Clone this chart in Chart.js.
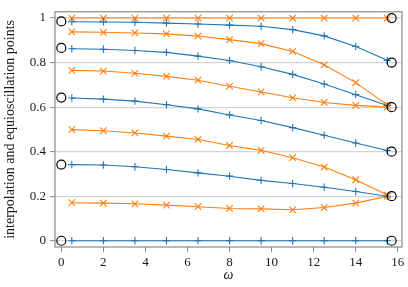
<!DOCTYPE html>
<html>
<head>
<meta charset="utf-8">
<script src="https://cdn.jsdelivr.net/npm/chart.js@4/dist/chart.umd.min.js"></script>
<style>
  html, body { margin: 0; padding: 0; background: #fff; }
  #c { display: block; }
</style>
</head>
<body>
<canvas id="c" width="408" height="287"></canvas>
<script>
// omega sample positions for the interior series
const omegas = [0.5, 2, 3.5, 5, 6.5, 8, 9.5, 11, 12.5, 14, 15.5];

// interpolation points (blue, "+")
const interp0 = [0, 0, 0, 0, 0, 0, 0, 0, 0, 0, 0];
const interp1 = [0.342, 0.340, 0.332, 0.320, 0.305, 0.290, 0.271, 0.257, 0.240, 0.221, 0.200];
const interp2 = [0.641, 0.636, 0.627, 0.611, 0.592, 0.565, 0.540, 0.508, 0.474, 0.439, 0.405];
const interp3 = [0.862, 0.860, 0.854, 0.846, 0.829, 0.809, 0.781, 0.747, 0.704, 0.656, 0.607];
const interp4 = [0.983, 0.982, 0.981, 0.977, 0.973, 0.968, 0.963, 0.948, 0.920, 0.872, 0.810];

// equioscillation points (orange, "x")
const equi1 = [0.171, 0.169, 0.166, 0.160, 0.153, 0.145, 0.143, 0.139, 0.149, 0.169, 0.200];
const equi2 = [0.499, 0.494, 0.484, 0.470, 0.455, 0.428, 0.406, 0.373, 0.331, 0.274, 0.205];
const equi3 = [0.765, 0.762, 0.752, 0.738, 0.721, 0.694, 0.668, 0.642, 0.621, 0.608, 0.600];
const equi4 = [0.938, 0.936, 0.933, 0.929, 0.919, 0.903, 0.885, 0.850, 0.790, 0.710, 0.610];
const equi5 = [1, 1, 1, 1, 1, 1, 1, 1, 1, 1, 1];

// reference nodes (open circles)
const startOmega = 0;
const startNodes = [0, 0.342, 0.643, 0.866, 0.985];
const endOmega = 15.708;
const endNodes = [0, 0.2, 0.4, 0.6, 0.8, 1.0];

// axis ticks
const xTicks = [0, 2, 4, 6, 8, 10, 12, 14, 16];
const yTicks = [0, 0.2, 0.4, 0.6, 0.8, 1];

const BLUE = '#1f77b4';
const ORANGE = '#ff7f0e';
const FONT = "'Liberation Serif', 'Times New Roman', serif";

function toPts(ys) { return ys.map((y, i) => ({ x: omegas[i], y: y })); }

function lineSet(ys, color, style, r) {
  return {
    data: toPts(ys),
    showLine: true,
    borderColor: color,
    backgroundColor: color,
    borderWidth: 1.1,
    pointStyle: style,
    pointRadius: r,
    pointBorderWidth: 1.1,
    pointBorderColor: color,
    tension: 0,
    order: 2
  };
}

const datasets = [];
[interp0, interp1, interp2, interp3, interp4].forEach(s => datasets.push(lineSet(s, BLUE, 'cross', 3.7)));
[equi1, equi2, equi3, equi4, equi5].forEach(s => datasets.push(lineSet(s, ORANGE, 'crossRot', 4.6)));
datasets.push({
  data: startNodes.map(y => ({ x: startOmega, y: y })),
  showLine: false,
  pointStyle: 'circle',
  pointRadius: 4.5,
  pointBorderWidth: 1.2,
  pointBorderColor: '#000',
  pointBackgroundColor: 'rgba(0,0,0,0)',
  order: 0
});
datasets.push({
  data: endNodes.map(y => ({ x: endOmega, y: y })),
  showLine: false,
  pointStyle: 'circle',
  pointRadius: 4.5,
  pointBorderWidth: 1.2,
  pointBorderColor: '#000',
  pointBackgroundColor: 'rgba(0,0,0,0)',
  order: 0
});

const boxPlugin = {
  id: 'box',
  beforeDatasetsDraw(chart) {
    const a = chart.chartArea, ctx = chart.ctx;
    ctx.save();
    ctx.strokeStyle = '#8a8a8a';
    ctx.lineWidth = 1.2;
    ctx.strokeRect(a.left, a.top, a.right - a.left, a.bottom - a.top);
    ctx.restore();
  }
};

new Chart(document.getElementById('c'), {
  type: 'scatter',
  data: { datasets: datasets },
  options: {
    responsive: false,
    animation: false,
    devicePixelRatio: 1,
    layout: { padding: { top: 1, right: 6, left: 0, bottom: 0 } },
    plugins: { legend: { display: false }, tooltip: { enabled: false } },
    scales: {
      x: {
        type: 'linear',
        min: -0.3,
        max: 16.2,
        afterBuildTicks(scale) { scale.ticks = xTicks.map(v => ({ value: v })); },
        afterFit(scale) { scale.height = 40; },
        border: { display: false },
        grid: { drawOnChartArea: false, drawTicks: true, tickLength: 5, tickColor: '#8a8a8a', tickWidth: 1 },
        ticks: { color: '#1a1a1a', font: { family: FONT, size: 13 }, padding: 3, maxRotation: 0, autoSkip: false },
        title: { display: true, text: 'ω', color: '#1a1a1a', font: { family: FONT, size: 14, style: 'italic' }, padding: { top: 0, bottom: 3 } }
      },
      y: {
        type: 'linear',
        min: -0.028,
        max: 1.028,
        afterBuildTicks(scale) { scale.ticks = yTicks.map(v => ({ value: v })); },
        afterFit(scale) { scale.width = 55; },
        border: { display: false },
        grid: { color: '#d4d4d4', lineWidth: 1.2, drawTicks: true, tickLength: 5, tickColor: '#8a8a8a', tickWidth: 1 },
        ticks: {
          color: '#1a1a1a', font: { family: FONT, size: 13 }, padding: 4, autoSkip: false,
          callback: v => String(Math.round(v * 10) / 10)
        },
        title: { display: true, text: 'interpolation and equioscillation points', color: '#1a1a1a', font: { family: FONT, size: 14 }, padding: { top: 2, bottom: 0 } }
      }
    }
  },
  plugins: [boxPlugin]
});
</script>
</body>
</html>
